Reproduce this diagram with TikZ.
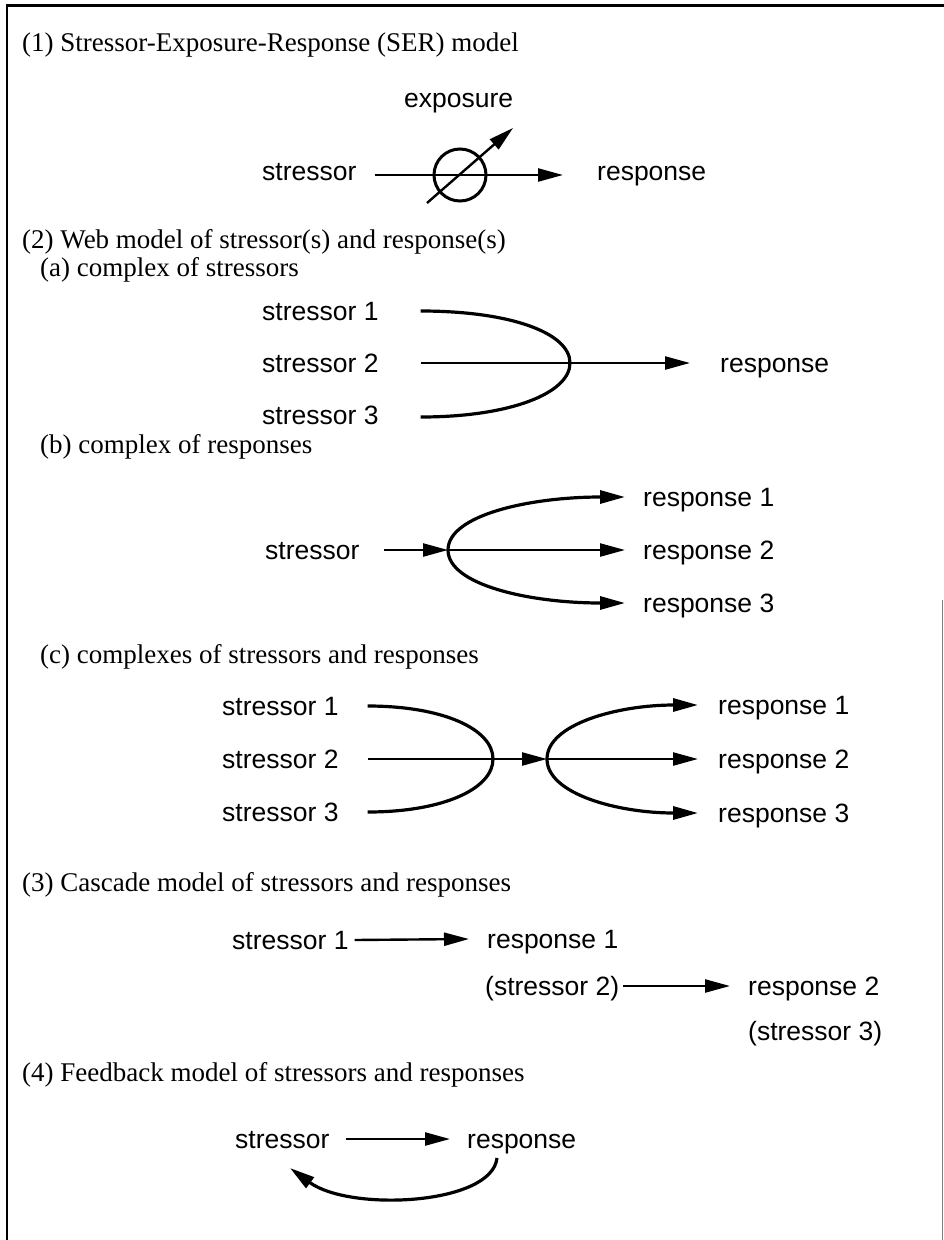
\documentclass[tikz,border=0pt]{standalone}
\usepackage{fontspec}
\setmainfont{Liberation Serif}
\newfontfamily\lbfont{Liberation Sans}
\usetikzlibrary{arrows.meta}
\begin{document}
\begin{tikzpicture}[x=1pt,y=-1pt,
 hd/.style={font=\fontsize{27}{31}\selectfont, anchor=base west, inner sep=0pt},
 lb/.style={font=\lbfont\fontsize{26.5}{30}\selectfont, anchor=west, inner sep=0pt, text height=19pt, text depth=0pt},
 con/.style={line width=2.4pt},
 arr/.style={con, -{Triangle[length=25pt,width=13pt]}},
 crv/.style={line width=3.2pt},
 carr/.style={crv, -{Triangle[length=25pt,width=13pt]}}]
\useasboundingbox (0,0) rectangle (944,1240);
% frame
\draw[line width=3pt] (6,5) -- (944,5);
\draw[line width=2.5pt] (7,3.5) -- (7,1240);
\draw[line width=1pt, gray] (942,600) -- (942,1240);

% (1)
\node[hd] (t1) at (22,51) {(1) Stressor-Exposure-Response (SER) model};
\node[lb] (ex) at (404,98) {exposure};
\node[lb] (s0) at (262,171) {stressor};
\node[lb] (r0) at (597,171) {response};
\node[circle, draw, line width=3pt, minimum size=52pt, inner sep=0pt] (c0) at (460,175) {};
\draw[arr] ([shift={(18,4)}]s0.east) -- ([shift={(-34,4)}]r0.west);
\draw[arr] ([shift={(-33,28)}]c0.center) -- ([shift={(53,-47)}]c0.center);

% (2)
\node[hd] (t2) at (22,248) {(2) Web model of stressor(s) and response(s)};
\node[hd] (t2a) at (40,276) {(a) complex of stressors};
\node[lb] (a1) at (262,311) {stressor 1};
\node[lb] (a2) at (262,363) {stressor 2};
\node[lb] (a3) at (262,415) {stressor 3};
\node[lb] (ar) at (720,363) {response};
\coordinate (aj) at (570,363);
\draw[crv] ([xshift=42pt]a1.east) .. controls +(90,0) and +(0,-30) .. (aj) .. controls +(0,30) and +(90,0) .. ([shift={(42,2)}]a3.east);
\draw[arr] ([xshift=42pt]a2.east) -- ([xshift=-30pt]ar.west);

\node[hd] (t2b) at (40,453) {(b) complex of responses};
\node[lb] (bs) at (265,550) {stressor};
\node[lb] (b1) at (643,497) {response 1};
\node[lb] (b2) at (643,550) {response 2};
\node[lb] (b3) at (643,603) {response 3};
\coordinate (bj) at (448,550);
\draw[arr] ([xshift=24pt]bs.east) -- (bj);
\draw[carr] (bj) .. controls +(0,-35) and +(-95,0) .. ([xshift=-18pt]b1.west);
\draw[arr] (bj) -- ([xshift=-18pt]b2.west);
\draw[carr] (bj) .. controls +(0,35) and +(-95,0) .. ([xshift=-18pt]b3.west);

\node[hd] (t2c) at (40,663) {(c) complexes of stressors and responses};
\node[lb] (c1) at (222,706) {stressor 1};
\node[lb] (c2) at (222,759) {stressor 2};
\node[lb] (c3) at (222,812) {stressor 3};
\node[lb] (d1) at (718,705) {response 1};
\node[lb] (d2) at (718,759) {response 2};
\node[lb] (d3) at (718,813) {response 3};
\coordinate (cl) at (493,759);
\coordinate (cj) at (547,759);
\draw[crv] ([xshift=29pt]c1.east) .. controls +(75,0) and +(0,-30) .. (cl) .. controls +(0,30) and +(75,0) .. ([xshift=29pt]c3.east);
\draw[arr] ([xshift=29pt]c2.east) -- (cj);
\draw[carr] (cj) .. controls +(0,-35) and +(-80,0) .. ([xshift=-20pt]d1.west);
\draw[arr] (cj) -- ([xshift=-20pt]d2.west);
\draw[carr] (cj) .. controls +(0,35) and +(-80,0) .. ([xshift=-20pt]d3.west);

% (3)
\node[hd] (t3) at (22,891) {(3) Cascade model of stressors and responses};
\node[lb] (k1) at (232,940) {stressor 1};
\node[lb] (k2) at (487,939) {response 1};
\node[lb] (k2b) at (485,986) {(stressor 2)};
\node[lb] (k3) at (748,986) {response 2};
\node[lb] (k3b) at (748,1031) {(stressor 3)};
\draw[arr] ([xshift=6pt]k1.east) -- ([xshift=-18pt]k2.west);
\draw[arr] ([xshift=4pt]k2b.east) -- ([xshift=-18pt]k3.west);

% (4)
\node[hd] (t4) at (22,1081) {(4) Feedback model of stressors and responses};
\node[lb] (fs) at (235,1139) {stressor};
\node[lb] (fr) at (467,1139) {response};
\draw[arr] ([xshift=16pt]fs.east) -- ([xshift=-17pt]fr.west);
\draw[carr] ([shift={(30,19)}]fr.west) .. controls +(-5,47) and +(60,44) .. ([shift={(55,29)}]fs.west);
\end{tikzpicture}
\end{document}
